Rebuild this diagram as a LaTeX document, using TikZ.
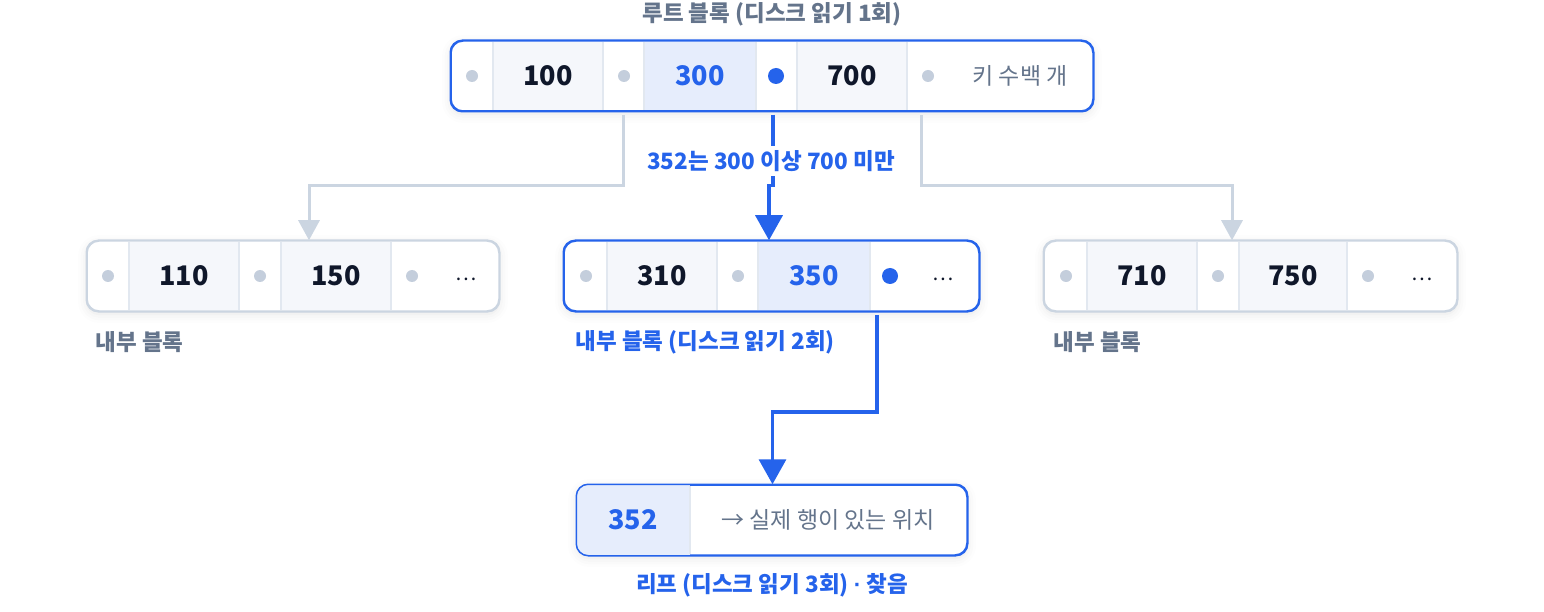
\documentclass[tikz,border=0pt]{standalone}
\usepackage{fontspec}
\setmainfont{Noto Sans CJK KR}
\newfontfamily\latinfont{Liberation Sans}
\usetikzlibrary{arrows.meta,shadows.blur}

\definecolor{hotblue}{HTML}{2563EB}
\definecolor{hotfill}{HTML}{E6EDFC}
\definecolor{keyfill}{HTML}{F5F7FB}
\definecolor{rim}{HTML}{CBD5E1}
\definecolor{sep}{HTML}{E2E8F0}
\definecolor{dotgray}{HTML}{C4CEDC}
\definecolor{ink}{HTML}{0F172A}
\definecolor{mute}{HTML}{64748B}

\tikzset{
  blk/.style={draw=rim, line width=1.5pt, rounded corners=12pt, fill=white,
    minimum width=#1, minimum height=70pt, inner sep=0pt,
    blur shadow={shadow xshift=0pt, shadow yshift=-3pt, shadow blur radius=9pt, shadow opacity=10}},
  hotrim/.style={draw=hotblue},
  rimline/.style={draw=rim, line width=1.5pt, rounded corners=12pt},
  sepline/.style={draw=sep, line width=1.5pt},
  pdot/.style={circle, fill=dotgray, minimum size=12pt, inner sep=0pt},
  hotdot/.style={circle, fill=hotblue, minimum size=16pt, inner sep=0pt},
  num/.style={font=\fontsize{27}{32}\selectfont\bfseries, text=ink},
  hotnum/.style={num, text=hotblue},
  more/.style={font=\fontsize{20}{24}\selectfont, text=ink},
  note/.style={font=\fontsize{23}{28}\selectfont, text=mute},
  capt/.style={font=\fontsize{22.5}{27}\selectfont\bfseries, text=mute},
  hotcapt/.style={capt, text=hotblue},
  garr/.style={draw=rim, line width=3pt, -{Triangle[width=21pt,length=20pt]}},
  barr/.style={draw=hotblue, line width=3.5pt, -{Triangle[width=27pt,length=25pt]}},
}

\begin{document}
\begin{tikzpicture}[x=1pt,y=-1pt]
\useasboundingbox (0,0) rectangle (1544,612);

% root block
\node[blk=642pt, hotrim] (root) at (772,76) {};
\fill[keyfill] (493,42) rectangle (603,110);
\fill[hotfill] (644,42) rectangle (756,110);
\fill[keyfill] (797,42) rectangle (907,110);
\foreach \x in {493,603,644,756,797,907} \draw[sepline] (\x,42) -- (\x,110);
\draw[rimline, hotrim] (root.north west) rectangle (root.south east);
\node[pdot] (rp1) at (472,76) {};
\node[num] (r100) at (548,76) {100};
\node[pdot] (rp2) at (624,76) {};
\node[hotnum] (r300) at (700,76) {300};
\node[hotdot] (rp3) at (776,76) {};
\node[num] (r700) at (852,76) {700};
\node[pdot] (rp4) at (928,76) {};
\node[note] (rmore) at (1020,76) {키 수백 개};
\node[capt] (tRoot) at (772,14) {루트 블록 (디스크 읽기 1회)};

% inner blocks
\node[blk=412pt] (inL) at (293,276) {};
\fill[keyfill] (129,242) rectangle (239,310);
\fill[keyfill] (281,242) rectangle (391,310);
\foreach \x in {129,239,281,391} \draw[sepline] (\x,242) -- (\x,310);
\draw[rimline] (inL.north west) rectangle (inL.south east);
\node[pdot] (lp1) at (108,276) {};
\node[num] (l110) at (184,276) {110};
\node[pdot] (lp2) at (260,276) {};
\node[num] (l150) at (336,276) {150};
\node[pdot] (lp3) at (412,276) {};
\node[more] (lmore) at (466,279) {…};
\node[capt, anchor=west] (tL) at (92,342) {내부 블록};

\node[blk=415pt, hotrim] (inM) at (771.5,276) {};
\fill[keyfill] (607,242) rectangle (717,310);
\fill[hotfill] (758,242) rectangle (870,310);
\foreach \x in {607,717,758,870} \draw[sepline] (\x,242) -- (\x,310);
\draw[rimline, hotrim] (inM.north west) rectangle (inM.south east);
\node[pdot] (mp1) at (586,276) {};
\node[num] (m310) at (662,276) {310};
\node[pdot] (mp2) at (738,276) {};
\node[hotnum] (m350) at (814,276) {350};
\node[hotdot] (mp3) at (890,276) {};
\node[more] (mmore) at (943,279) {…};
\node[hotcapt, anchor=west] (tM) at (572,342) {내부 블록 (디스크 읽기 2회)};

\node[blk=413pt] (inR) at (1250.5,276) {};
\fill[keyfill] (1087,242) rectangle (1197,310);
\fill[keyfill] (1239,242) rectangle (1347,310);
\foreach \x in {1087,1197,1239,1347} \draw[sepline] (\x,242) -- (\x,310);
\draw[rimline] (inR.north west) rectangle (inR.south east);
\node[pdot] (qp1) at (1066,276) {};
\node[num] (q710) at (1142,276) {710};
\node[pdot] (qp2) at (1218,276) {};
\node[num] (q750) at (1293,276) {750};
\node[pdot] (qp3) at (1368,276) {};
\node[more] (qmore) at (1422,279) {…};
\node[capt, anchor=west] (tR) at (1050,342) {내부 블록};

% leaf
\node[blk=390pt, hotrim] (leaf) at (772,520) {};
\begin{scope}
  \clip[rounded corners=12pt] (leaf.north west) rectangle (leaf.south east);
  \fill[hotfill] (577,485) rectangle (690,555);
\end{scope}
\draw[sepline] (690,486) -- (690,554);
\draw[rimline, hotrim] (leaf.north west) rectangle (leaf.south east);
\node[hotnum] (f352) at (633,520) {352};
\node[note] (fpos) at (828,520) {→ 실제 행이 있는 위치};
\node[hotcapt] (tLeaf) at (772,585) {리프 (디스크 읽기 3회) {\latinfont·} 찾음};

% arrows
\draw[garr] ([xshift=-1pt,yshift=-3pt]root.south -| rp2) -- ++(0,71) -| ([xshift=16pt]inL.north);
\draw[garr] ([xshift=-7pt,yshift=-3pt]root.south -| rp4) -- ++(0,71) -| ([xshift=-18.5pt]inR.north);
\draw[barr] ([xshift=-3pt,yshift=-3pt]root.south -| rp3) -- ++(0,71) -| ([xshift=-2.5pt]inM.north);
\draw[barr] ([xshift=-13pt,yshift=-3pt]inM.south -| mp3) -- ++(0,97) -| ([xshift=0.5pt]leaf.north);
\node[hotcapt, fill=white, inner xsep=3pt, inner ysep=4pt] (tWhy) at (771,161) {352는 300 이상 700 미만};
\end{tikzpicture}
\end{document}
